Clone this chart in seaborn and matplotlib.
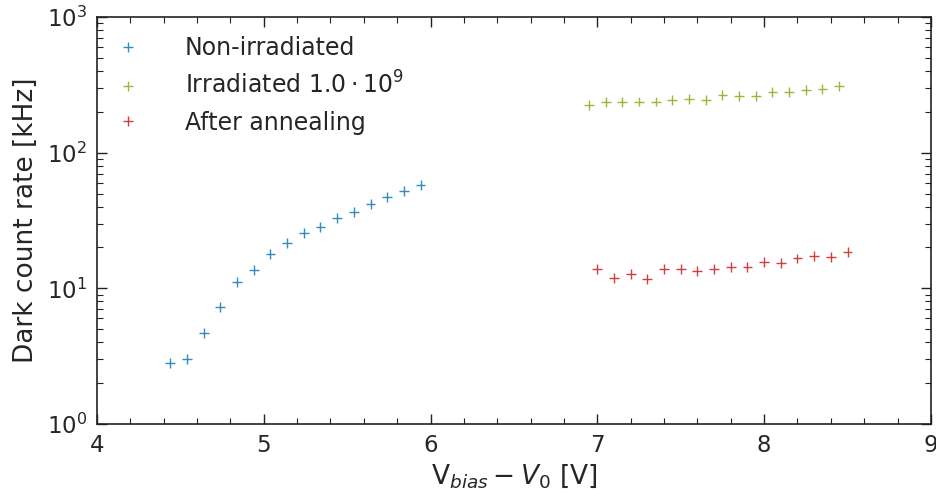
import numpy as np
import pandas as pd
import matplotlib
matplotlib.use("Agg")
import matplotlib.pyplot as plt
import seaborn as sns
from matplotlib.ticker import LogLocator, MultipleLocator, NullFormatter

# ---- data ----
x_non = [4.44, 4.54, 4.64, 4.74, 4.84, 4.94, 5.04, 5.14, 5.24, 5.34, 5.44, 5.54, 5.64, 5.74, 5.84, 5.94]
y_non = [2.83, 3.03, 4.69, 7.25, 11.1, 13.7, 18.0, 21.6, 25.7, 28.3, 33.0, 36.7, 41.9, 47.3, 52.4, 57.8]

x_irr = [6.95, 7.05, 7.15, 7.25, 7.35, 7.45, 7.55, 7.65, 7.75, 7.85, 7.95, 8.05, 8.15, 8.25, 8.35, 8.45]
y_irr = [225, 235, 235, 238, 238, 244, 249, 244, 266, 262, 262, 281, 281, 290, 295, 310]

x_ann = [7.0, 7.1, 7.2, 7.3, 7.4, 7.5, 7.6, 7.7, 7.8, 7.9, 8.0, 8.1, 8.2, 8.3, 8.4, 8.5]
y_ann = [13.8, 12.0, 12.7, 11.7, 13.8, 13.8, 13.4, 13.8, 14.3, 14.3, 15.7, 15.3, 16.6, 17.3, 17.1, 18.4]

labels = ["Non-irradiated", r"Irradiated $1.0\cdot10^9$", "After annealing"]
colors = ["#348ABD", "#9AB83A", "#D0403A"]

df = pd.concat([
    pd.DataFrame({"x": x_non, "y": y_non, "series": labels[0]}),
    pd.DataFrame({"x": x_irr, "y": y_irr, "series": labels[1]}),
    pd.DataFrame({"x": x_ann, "y": y_ann, "series": labels[2]}),
], ignore_index=True)

sns.set_style("ticks")
plt.rcParams["font.family"] = ["DejaVu Sans"]
plt.rcParams["mathtext.fontset"] = "dejavusans"

fig = plt.figure(figsize=(9.37, 5.0), dpi=100)
ax = fig.add_axes([0.1035, 0.152, 0.890, 0.814])

sns.scatterplot(data=df, x="x", y="y", hue="series", hue_order=labels,
                palette=colors, marker="+", s=50, linewidth=1.0, ax=ax, legend=False)

ax.set_yscale("log")
ax.set_xlim(4, 9)
ax.set_ylim(1, 1000)
ax.xaxis.set_major_locator(MultipleLocator(1))
ax.xaxis.set_minor_locator(MultipleLocator(0.2))
ax.yaxis.set_major_locator(LogLocator(base=10))
ax.yaxis.set_minor_locator(LogLocator(base=10, subs=np.arange(2, 10)))
ax.yaxis.set_minor_formatter(NullFormatter())

textc = "#262626"
ax.tick_params(which="both", direction="in", top=True, right=True, colors="#222222",
               labelcolor=textc, labelsize=16.5, pad=7)
ax.tick_params(which="major", length=7, width=1)
ax.tick_params(which="minor", length=4, width=0.8)
for sp in ax.spines.values():
    sp.set_color("#222222")
    sp.set_linewidth(1.2)

ax.set_xlabel(r"V$_{bias} - V_0$ [V]", fontsize=19, color=textc, labelpad=4)
ax.set_ylabel("Dark count rate [kHz]", fontsize=19, color=textc, labelpad=6)

handles = [plt.Line2D([], [], linestyle="", marker="+", color=c, markersize=7, markeredgewidth=1.0)
           for c in colors]
leg = ax.legend(handles, labels, loc="upper left", frameon=False, fontsize=17,
                handlelength=1.0, handletextpad=1.92, borderaxespad=0.4, borderpad=0.4,
                labelspacing=0.5, labelcolor=textc)

fig.savefig("out.png", dpi=100)
